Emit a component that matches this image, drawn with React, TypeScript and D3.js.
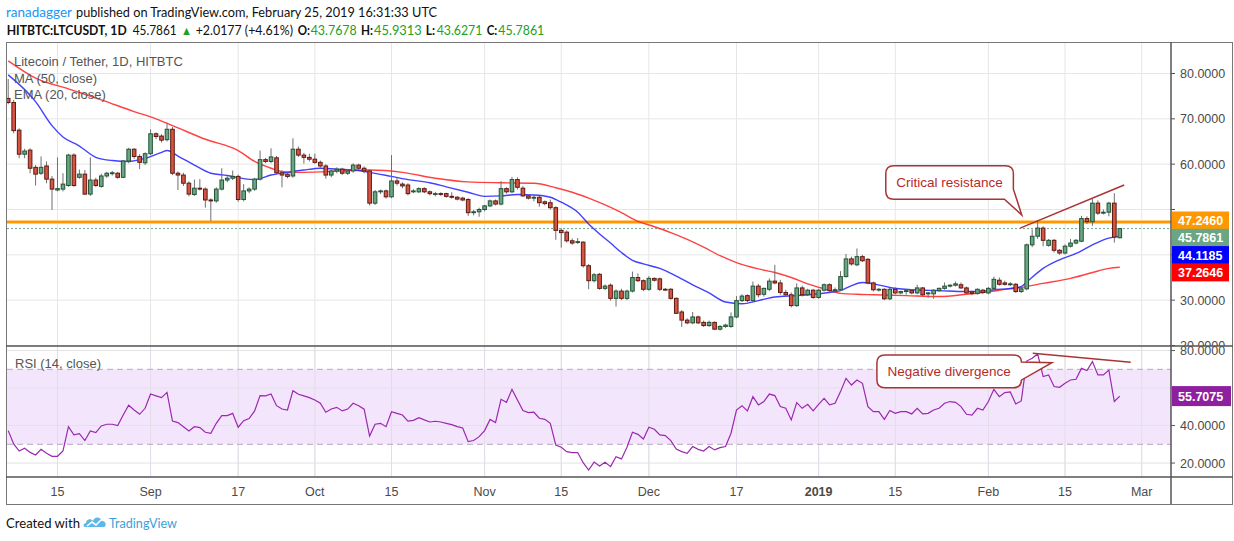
import React from 'react';
import * as d3 from 'd3';

// ---------- DATA ----------
const START = Date.UTC(2018, 7, 6); // first daily candle (Aug 6, 2018)
const DAY = 86400000;

// [open, high, low, close] daily candles, Aug 6 2018 .. Feb 25 2019
const ohlc: number[][] = [
  [74.5, 78.8, 73.2, 73.6], [73.6, 74.2, 66.8, 67.4], [67.5, 67.9, 61.3, 62.2], [62.2, 63.4, 61.3, 62.9],
  [63.1, 63.5, 58.0, 59.1], [59.3, 59.8, 55.3, 57.8], [58.0, 61.7, 57.6, 59.3], [59.6, 60.6, 55.8, 56.7],
  [56.7, 57.4, 49.9, 54.5], [54.3, 61.5, 54.0, 54.6], [54.5, 58.0, 54.0, 55.6], [55.3, 62.3, 55.0, 62.0],
  [62.0, 62.4, 55.0, 55.3], [57.1, 58.8, 56.8, 57.8], [57.8, 58.7, 53.2, 53.4], [53.4, 61.5, 53.0, 56.5],
  [56.5, 57.0, 55.0, 55.3], [55.1, 57.9, 54.8, 57.4], [57.4, 58.3, 57.0, 58.0], [57.9, 58.5, 57.5, 58.1],
  [58.0, 58.3, 56.8, 57.1], [57.1, 60.9, 56.9, 60.7], [60.7, 63.6, 60.2, 63.3], [63.3, 63.5, 61.2, 61.7],
  [61.7, 62.2, 58.9, 60.4], [60.3, 62.6, 59.8, 62.3], [62.3, 67.7, 62.0, 66.7], [66.7, 67.0, 65.5, 66.1],
  [66.2, 66.6, 64.8, 65.3], [65.4, 69.1, 65.0, 67.7], [67.7, 68.2, 57.6, 58.0], [58.0, 58.4, 54.3, 57.6],
  [57.6, 58.1, 55.2, 55.8], [55.8, 56.2, 52.9, 53.4], [53.3, 56.6, 53.0, 54.7], [54.7, 56.7, 54.2, 54.5],
  [54.5, 54.9, 50.4, 52.1], [52.1, 52.5, 47.5, 51.9], [51.9, 54.9, 51.5, 54.5], [54.5, 59.1, 54.2, 56.5],
  [56.5, 57.3, 56.0, 56.9], [56.9, 58.6, 56.5, 57.3], [57.3, 57.7, 51.7, 52.2], [52.2, 55.6, 51.8, 54.1],
  [54.1, 54.9, 53.6, 54.5], [54.5, 57.0, 54.1, 56.7], [56.7, 63.0, 56.4, 61.0], [61.0, 61.4, 60.2, 60.6],
  [60.6, 63.5, 60.2, 61.6], [61.4, 61.8, 57.9, 58.1], [58.1, 58.6, 54.9, 57.6], [57.8, 58.2, 56.9, 57.3],
  [57.4, 65.7, 57.0, 63.3], [63.3, 63.9, 61.6, 62.0], [62.0, 62.5, 60.1, 61.5], [61.5, 62.3, 60.6, 61.1],
  [61.1, 62.3, 60.1, 60.4], [60.4, 60.8, 59.2, 59.6], [59.6, 60.0, 56.8, 57.6], [57.6, 58.8, 57.1, 58.5],
  [58.5, 59.3, 58.0, 58.9], [58.9, 59.2, 57.6, 58.0], [58.0, 58.9, 57.6, 58.5], [58.5, 60.2, 58.1, 59.8],
  [59.8, 60.1, 58.7, 59.1], [59.1, 59.5, 58.0, 58.5], [58.5, 58.8, 50.9, 51.4], [51.4, 54.3, 51.0, 53.9],
  [53.9, 54.4, 53.4, 54.1], [54.1, 54.4, 52.4, 52.8], [52.8, 62.0, 52.5, 56.3], [56.3, 57.0, 55.3, 55.8],
  [55.6, 56.0, 54.7, 55.2], [55.4, 55.8, 53.1, 53.5], [53.9, 54.5, 53.6, 54.1], [53.9, 54.9, 53.6, 54.6],
  [54.6, 54.9, 53.6, 53.9], [53.9, 54.2, 53.1, 53.5], [53.4, 53.9, 52.9, 53.5], [53.5, 53.8, 53.0, 53.4],
  [53.5, 53.7, 52.6, 52.9], [52.9, 53.8, 52.4, 52.7], [52.7, 53.0, 52.0, 52.3], [52.5, 52.8, 51.8, 52.1],
  [52.2, 52.5, 48.6, 49.3], [49.3, 49.9, 48.7, 49.5], [49.5, 50.4, 48.4, 50.0], [50.0, 51.0, 49.6, 50.8],
  [50.8, 52.2, 50.5, 51.9], [51.9, 52.2, 50.9, 51.2], [51.2, 56.3, 50.9, 54.6], [54.6, 54.9, 53.5, 53.9],
  [53.9, 57.2, 53.6, 56.6], [56.6, 57.1, 54.4, 54.9], [54.7, 55.2, 52.8, 53.0], [53.0, 53.3, 52.2, 52.5],
  [52.5, 53.3, 51.8, 52.7], [52.7, 53.0, 50.6, 51.5], [51.7, 52.0, 50.9, 51.3], [51.5, 52.2, 50.0, 50.4],
  [50.4, 50.7, 43.3, 45.4], [45.4, 45.8, 41.6, 44.9], [45.0, 45.4, 42.7, 43.1], [43.1, 43.6, 42.2, 42.6],
  [42.8, 43.7, 42.4, 42.9], [42.8, 43.0, 37.2, 37.6], [37.6, 38.0, 32.4, 34.3], [34.3, 36.0, 33.9, 35.6],
  [35.7, 36.0, 32.3, 32.6], [32.6, 33.5, 32.2, 33.1], [33.3, 33.7, 29.9, 30.4], [30.4, 32.4, 28.6, 32.0],
  [32.0, 32.5, 30.0, 30.4], [30.4, 32.3, 30.0, 32.0], [32.0, 36.3, 31.7, 35.0], [35.0, 35.9, 34.0, 34.3],
  [34.3, 34.6, 32.0, 32.4], [32.4, 35.3, 32.1, 34.8], [34.8, 35.0, 34.1, 34.4], [34.7, 35.0, 32.0, 32.4],
  [32.4, 32.7, 32.1, 32.3], [32.4, 32.7, 30.1, 30.4], [30.4, 30.6, 27.0, 27.1], [27.4, 27.8, 24.1, 25.6],
  [25.6, 26.0, 24.7, 25.0], [25.0, 27.4, 24.7, 26.3], [26.3, 26.6, 24.7, 25.0], [25.1, 25.5, 24.1, 24.4],
  [24.4, 25.5, 24.1, 25.1], [25.1, 25.3, 23.4, 23.6], [23.6, 24.5, 23.3, 24.2], [24.2, 24.8, 23.9, 24.5],
  [24.2, 27.3, 23.9, 26.3], [26.3, 30.9, 26.0, 29.9], [29.9, 31.3, 29.6, 30.9], [31.0, 31.3, 29.6, 29.9],
  [29.9, 34.1, 29.6, 33.1], [33.1, 33.6, 30.6, 31.2], [31.3, 32.8, 30.8, 32.6], [32.4, 34.8, 32.0, 34.2],
  [34.2, 37.8, 33.5, 33.8], [33.8, 34.5, 31.2, 31.7], [31.7, 32.3, 31.0, 31.2], [31.2, 31.7, 28.4, 28.8],
  [28.8, 33.7, 28.5, 32.7], [32.7, 33.2, 30.8, 31.2], [31.2, 32.5, 30.9, 32.2], [32.2, 32.5, 30.3, 30.6],
  [30.6, 32.5, 30.3, 32.2], [32.2, 33.7, 31.9, 33.4], [33.4, 33.7, 31.8, 32.1], [32.1, 32.8, 31.8, 32.3],
  [32.3, 36.4, 32.0, 35.2], [35.2, 40.2, 35.0, 39.1], [39.1, 39.6, 37.6, 38.0], [37.8, 41.4, 37.5, 39.6],
  [39.6, 40.0, 38.4, 38.7], [39.0, 39.3, 33.5, 33.8], [33.8, 34.1, 31.9, 32.3], [32.3, 32.7, 31.9, 32.4],
  [32.4, 32.6, 30.0, 30.3], [30.3, 32.7, 30.0, 32.4], [32.4, 32.8, 31.3, 31.6], [31.6, 32.1, 31.3, 31.9],
  [31.9, 32.3, 31.2, 32.1], [32.1, 32.4, 31.3, 31.6], [31.6, 33.4, 31.3, 32.7], [32.7, 32.9, 30.9, 31.2],
  [31.4, 31.8, 30.5, 31.6], [31.4, 32.4, 30.3, 32.2], [32.1, 32.8, 31.8, 32.6], [32.6, 33.9, 32.3, 33.1],
  [33.1, 33.5, 32.8, 33.3], [33.3, 34.1, 33.0, 33.6], [33.4, 33.9, 32.5, 32.7], [32.7, 33.0, 31.3, 31.6],
  [31.8, 32.1, 31.1, 31.5], [31.5, 32.6, 31.2, 32.4], [32.2, 32.5, 31.4, 31.7], [31.6, 32.9, 31.3, 32.6],
  [32.6, 35.2, 32.3, 34.6], [34.4, 35.0, 33.2, 33.5], [33.8, 34.3, 33.2, 33.5], [33.4, 34.0, 33.1, 33.6],
  [33.5, 33.8, 31.6, 31.9], [31.9, 32.8, 31.6, 32.5], [32.5, 42.5, 32.2, 42.2], [42.2, 45.6, 41.7, 44.1],
  [44.1, 47.7, 43.5, 45.9], [45.9, 46.3, 41.9, 43.2], [42.1, 43.5, 41.8, 43.2], [43.2, 43.5, 40.5, 41.0],
  [41.0, 41.3, 40.0, 40.4], [40.4, 42.3, 40.1, 41.9], [41.9, 43.5, 41.6, 42.6], [42.6, 43.5, 42.3, 43.2],
  [43.0, 48.6, 42.8, 48.0], [48.0, 48.5, 46.8, 47.3], [47.3, 52.3, 46.4, 51.4], [51.4, 52.0, 48.8, 49.2],
  [49.2, 50.0, 48.9, 49.4], [49.4, 51.7, 48.5, 51.4], [51.4, 53.6, 42.7, 43.9], [43.7678, 45.9313, 43.6271, 45.7861],
];

// RSI (14, close), one value per candle
const rsi14: number[] = [
  37.3, 30.2, 26.4, 27.9, 25.7, 24.3, 27.3, 25.2, 23.6, 23.6, 26.4, 39.4, 35.0, 35.7, 32.0, 37.1,
  36.2, 39.8, 40.7, 40.7, 40.0, 45.6, 50.8, 48.3, 46.0, 49.2, 56.8, 55.8, 54.9, 57.7, 42.4, 41.6,
  39.4, 37.1, 39.4, 38.9, 36.4, 35.9, 41.2, 45.3, 45.3, 46.5, 39.1, 42.6, 43.7, 47.8, 56.0, 55.8,
  56.8, 50.6, 48.8, 48.3, 58.6, 56.7, 55.8, 54.9, 53.6, 51.9, 47.1, 48.8, 49.7, 47.8, 48.8, 51.9,
  50.6, 48.7, 34.4, 40.7, 41.2, 39.4, 47.4, 46.5, 45.6, 42.4, 42.8, 44.2, 43.0, 41.9, 42.3, 41.9,
  41.2, 40.5, 39.4, 38.7, 31.4, 32.0, 34.1, 37.3, 43.3, 41.6, 54.0, 52.4, 59.3, 53.6, 48.0, 46.9,
  47.1, 43.9, 43.3, 41.2, 29.6, 28.4, 26.1, 25.6, 25.6, 20.2, 16.3, 20.5, 18.4, 20.4, 18.1, 23.4,
  22.2, 28.4, 36.4, 35.3, 32.8, 39.1, 38.0, 35.0, 34.6, 32.0, 27.5, 26.1, 25.2, 28.8, 27.3, 26.4,
  28.8, 27.0, 28.2, 28.8, 35.9, 48.3, 50.6, 47.8, 55.4, 51.0, 52.8, 56.8, 56.0, 50.1, 49.2, 43.0,
  52.2, 49.2, 51.3, 47.8, 51.3, 54.5, 51.0, 51.9, 58.1, 65.2, 61.6, 64.3, 62.5, 50.1, 47.4, 47.4,
  43.3, 48.0, 46.5, 47.4, 47.4, 46.2, 49.2, 46.2, 46.5, 48.3, 49.2, 51.9, 52.8, 52.4, 50.1, 46.0,
  45.6, 49.2, 48.3, 52.8, 59.3, 55.4, 57.6, 57.9, 51.5, 53.1, 74.4, 75.9, 78.2, 66.1, 67.0, 60.8,
  60.4, 62.5, 64.3, 64.7, 70.5, 69.3, 74.1, 67.0, 67.0, 69.6, 52.8, 55.7075,
];

// MA (50, close) read at [candle index, value]
const ma50Pts: [number, number][] = [
  [0, 82.8], [5, 79.0], [11, 76.6], [17, 74.2], [23, 71.6], [27, 70.0], [31, 68.0], [36, 65.5],
  [42, 63.0], [45, 60.6], [48, 59.1], [50, 58.4], [53, 58.2], [57, 58.3], [62, 58.6], [66, 58.7],
  [72, 58.2], [78, 56.9], [84, 56.1], [90, 55.9], [96, 55.8], [100, 54.8], [103, 53.8], [106, 52.5],
  [109, 51.0], [112, 49.3], [115, 47.4], [118, 46.2], [121, 44.9], [124, 43.4], [127, 41.7], [130, 39.8],
  [133, 38.3], [137, 36.9], [140, 36.1], [143, 35.0], [146, 33.6], [149, 32.5], [152, 31.5], [155, 31.3],
  [158, 31.2], [164, 31.0], [170, 30.8], [175, 31.3], [178, 31.7], [181, 32.2], [185, 32.8], [189, 33.7],
  [194, 34.8], [198, 36.1], [201, 37.0], [203, 37.2646],
];

// EMA (20, close) read at [candle index, value]
const ema20Pts: [number, number][] = [
  [0, 79.7], [5, 73.8], [8, 68.5], [10, 66.0], [13, 64.0], [16, 61.5], [19, 60.8], [22, 60.6],
  [25, 61.3], [28, 62.6], [29, 63.0], [31, 61.8], [34, 59.8], [37, 58.0], [40, 57.5], [43, 56.8],
  [45, 56.6], [48, 57.6], [51, 58.2], [54, 58.7], [57, 59.1], [60, 58.9], [63, 58.7], [66, 58.2],
  [70, 57.3], [73, 56.6], [77, 55.9], [80, 55.0], [84, 53.8], [87, 52.9], [90, 53.0], [93, 53.3],
  [96, 53.2], [99, 52.7], [101, 51.6], [104, 49.4], [106, 46.8], [108, 44.6], [110, 42.6], [112, 40.5],
  [114, 38.8], [116, 38.0], [119, 37.0], [122, 35.3], [125, 33.4], [128, 31.6], [131, 29.6], [134, 29.2],
  [137, 29.9], [140, 30.7], [144, 31.0], [147, 31.3], [150, 31.7], [152, 32.1], [154, 33.2], [156, 33.9],
  [158, 33.6], [161, 32.8], [165, 32.3], [170, 32.1], [175, 31.9], [178, 32.0], [180, 32.3], [183, 32.6],
  [185, 33.0], [186, 34.0], [189, 37.0], [192, 38.9], [195, 40.3], [198, 42.2], [201, 43.7], [203, 44.1185],
];

const priceTicks = [20, 30, 40, 50, 60, 70, 80];
const rsiGridTicks = [20, 40, 60, 80];
const rsiBand = [30, 70];
const timeTickDates = ['2018-08-15', '2018-09-01', '2018-09-17', '2018-10-01', '2018-10-15', '2018-11-01', '2018-11-15',
  '2018-12-01', '2018-12-17', '2019-01-01', '2019-01-15', '2019-02-01', '2019-02-15', '2019-03-01'];
const timeTickLabels = ['15', 'Sep', '17', 'Oct', '15', 'Nov', '15', 'Dec', '17', '2019', '15', 'Feb', '15', 'Mar'];

const resistanceLevel = 47.246;
const lastPrice = 45.7861;
const lastEma = 44.1185;
const lastMa = 37.2646;
const lastRsi = 55.7075;
const priceTrendLine: [number, number][] = [[184.8, 45.9], [203.8, 55.4]];
const rsiTrendLine: [number, number][] = [[187.1, 78.5], [205.0, 73.7]];
const resistanceCallout = { idx: 185.1, value: 48.8, text: 'Critical resistance' };
const divergenceCallout = { idx: 190.6, value: 73.5, text: 'Negative divergence' };

// header line 2 segments: [text, kind]
const headerSegs: [string, string][] = [
  ['HITBTC:LTCUSDT, 1D', 'b'], ['45.7861', 'n'], ['▲', 'g'], ['+2.0177 (+4.61%)', 'n'],
  ['O:', 'b'], ['43.7678', 'g'], ['H:', 'b'], ['45.9313', 'g'], ['L:', 'b'], ['43.6271', 'g'], ['C:', 'b'], ['45.7861', 'g'],
];
// layout of those segments (x, width) in px
const headerLayout: [number, number][] = [
  [6.7, 120], [132.7, 44], [181, 11], [195.7, 97.3], [297.7, 12.3], [310.7, 46], [361, 12], [374, 47.7],
  [425.7, 9.3], [436.7, 45.6], [486.7, 10.6], [498.3, 46],
];

// ---------- LAYOUT ----------
const W = 1234, H = 541;
const PL = 7, PR = 1171;
const MAIN_T = 42, MAIN_B = 346, RSI_B = 477, AXIS_B = 504;
const FONT = '"Liberation Sans", Arial, sans-serif';
const HFONT = 'Lato, "Open Sans", sans-serif';

const dateOf = (i: number) => new Date(START + i * DAY);
const x = d3.scaleUtc().domain([dateOf(0), dateOf(203)]).range([8.2, 1119.8]);
const yP = d3.scaleLinear().domain([20, 80]).range([345.5, 73.5]);
const yR = d3.scaleLinear().domain([30, 70]).range([444.3, 369.3]);

const UP = '#6ba583', UP_B = '#225437', DN = '#d75442', DN_B = '#5b1a13';
const ANN = '#a83434';
const GREEN_TXT = '#22a022';

export default function App() {
  const maPath = d3.line<[number, number]>().x((d) => x(dateOf(d[0]))).y((d) => yP(d[1])).curve(d3.curveMonotoneX)(ma50Pts) || '';
  const emaPath = d3.line<[number, number]>().x((d) => x(dateOf(d[0]))).y((d) => yP(d[1])).curve(d3.curveMonotoneX)(ema20Pts) || '';
  const rsiPath = d3.line<number>().x((_, i) => x(dateOf(i))).y((d) => yR(d))(rsi14) || '';

  // price label stacking
  const labels = [
    { v: resistanceLevel, fill: '#ff9800' },
    { v: lastPrice, fill: UP },
    { v: lastEma, fill: '#0000ff' },
    { v: lastMa, fill: '#ff0000' },
  ];
  let prev = -Infinity;
  const placed = labels.map((l) => {
    let cy = yP(l.v) - 1.5;
    if (cy < prev + 17.3) cy = prev + 17.3;
    prev = cy;
    return { ...l, cy };
  });
  // axis tick labels hidden behind value boxes
  const mainTickVisible = (t: number) => placed.every((l) => Math.abs(l.cy - yP(t)) > 13);
  const rsiTickVisible = (t: number) => Math.abs(yR(lastRsi) - yR(t)) > 14;

  // callouts
  const r = 8;
  const rt = { x: x(dateOf(resistanceCallout.idx)), y: yP(resistanceCallout.value) };
  const rb = { x0: rt.x - 136, x1: rt.x - 8.4, y0: rt.y - 49.3, y1: rt.y - 15.7 };
  const resPath = `M${rb.x0 + r},${rb.y0} L${rb.x1 - r},${rb.y0} Q${rb.x1},${rb.y0} ${rb.x1},${rb.y0 + r} L${rb.x1},${rb.y1 - 10} L${rt.x},${rt.y} L${rb.x1 - 9},${rb.y1} L${rb.x0 + r},${rb.y1} Q${rb.x0},${rb.y1} ${rb.x0},${rb.y1 - r} L${rb.x0},${rb.y0 + r} Q${rb.x0},${rb.y0} ${rb.x0 + r},${rb.y0} Z`;

  const dt = { x: x(dateOf(divergenceCallout.idx)), y: yR(divergenceCallout.value) };
  const db = { x0: dt.x - 175, x1: dt.x - 30.5, y0: dt.y - 7.7, y1: dt.y + 25 };
  const divPath = `M${db.x0 + r},${db.y0} L${db.x1 - r},${db.y0} Q${db.x1},${db.y0} ${db.x1},${db.y0 + r - 1} L${dt.x},${dt.y} L${db.x1},${db.y0 + 25} L${db.x1},${db.y1 - r} Q${db.x1},${db.y1} ${db.x1 - r},${db.y1} L${db.x0 + r},${db.y1} Q${db.x0},${db.y1} ${db.x0},${db.y1 - r} L${db.x0},${db.y0 + r} Q${db.x0},${db.y0} ${db.x0 + r},${db.y0} Z`;

  const tickXs = timeTickDates.map((s) => x(new Date(s + 'T00:00:00Z')));

  return (
    <svg width={W} height={H} style={{ position: 'absolute', left: 0, top: 0, background: '#fff' }}>
      <defs>
        <clipPath id="mainClip"><rect x={PL} y={MAIN_T} width={PR - PL} height={MAIN_B - MAIN_T} /></clipPath>
        <clipPath id="rsiClip"><rect x={PL} y={MAIN_B} width={PR - PL} height={RSI_B - MAIN_B} /></clipPath>
        <clipPath id="mainAxisClip"><rect x={PR} y={MAIN_T} width={W - PR} height={MAIN_B - MAIN_T} /></clipPath>
        <clipPath id="rsiAxisClip"><rect x={PR} y={MAIN_B} width={W - PR} height={RSI_B - MAIN_B} /></clipPath>
      </defs>

      {/* header */}
      <text x={6} y={17} fontFamily={HFONT} fontSize={14} fill="#2196f3" textLength={66} lengthAdjust="spacingAndGlyphs">ranadagger</text>
      <text x={76} y={17} fontFamily={HFONT} fontSize={14} fill="#111" textLength={361} lengthAdjust="spacingAndGlyphs">published on TradingView.com, February 25, 2019 16:31:33 UTC</text>
      {headerSegs.map(([t, k], i) => (
        <text key={'h' + i} x={headerLayout[i][0]} y={35} fontFamily={HFONT} fontSize={12.5}
          fontWeight={k === 'b' ? 'bold' : 'normal'} fill={k === 'g' ? GREEN_TXT : '#111'}
          textLength={headerLayout[i][1]} lengthAdjust="spacingAndGlyphs">{t}</text>
      ))}

      {/* grids */}
      <g stroke="#e6e6e6" strokeWidth={1}>
        {tickXs.map((tx, i) => (
          <line key={'vg' + i} x1={tx} x2={tx} y1={MAIN_T} y2={RSI_B} />
        ))}
        {priceTicks.map((t) => (
          <line key={'hg' + t} x1={PL} x2={PR} y1={yP(t)} y2={yP(t)} />
        ))}
      </g>

      {/* RSI pane */}
      <g clipPath="url(#rsiClip)">
        <rect x={PL} y={yR(rsiBand[1])} width={PR - PL} height={yR(rsiBand[0]) - yR(rsiBand[1])} fill="#f3e6fc" />
        {tickXs.map((tx, i) => (
          <line key={'rvg' + i} x1={tx} x2={tx} y1={MAIN_B} y2={RSI_B} stroke="#e2dce8" />
        ))}
        {rsiGridTicks.map((t) => (
          <line key={'rg' + t} x1={PL} x2={PR} y1={yR(t)} y2={yR(t)} stroke="#e3e0e6" />
        ))}
        {rsiBand.map((t) => (
          <line key={'rb' + t} x1={PL} x2={PR} y1={yR(t)} y2={yR(t)} stroke="#b8a8c0" strokeDasharray="6,4" />
        ))}
        <path d={rsiPath} fill="none" stroke="#9c27b0" strokeWidth={1.2} />
        <line x1={x(dateOf(rsiTrendLine[0][0]))} y1={yR(rsiTrendLine[0][1])} x2={x(dateOf(rsiTrendLine[1][0]))} y2={yR(rsiTrendLine[1][1])} stroke={ANN} strokeWidth={1.5} />
        <path d={divPath} fill="#fff" stroke={ANN} strokeWidth={1.5} />
        <text x={(db.x0 + db.x1) / 2} y={(db.y0 + db.y1) / 2 + 4.5} textAnchor="middle" fontFamily={FONT} fontSize={13.5} fill="#b52b2b">{divergenceCallout.text}</text>
        <text x={15} y={368} fontFamily={FONT} fontSize={13} fill="#555">RSI (14, close)</text>
      </g>

      {/* main pane */}
      <g clipPath="url(#mainClip)">
        <line x1={PL} x2={PR} y1={yP(resistanceLevel)} y2={yP(resistanceLevel)} stroke="#ffcc80" strokeWidth={4} />
        <line x1={PL} x2={PR} y1={yP(resistanceLevel)} y2={yP(resistanceLevel)} stroke="#ff9800" strokeWidth={2} />
        <line x1={PL} x2={PR} y1={yP(lastPrice)} y2={yP(lastPrice)} stroke={UP} strokeWidth={1} strokeDasharray="2,2" />
        <path d={maPath} fill="none" stroke="#ff2020" strokeWidth={1.4} strokeOpacity={0.85} />
        <path d={emaPath} fill="none" stroke="#2020ff" strokeWidth={1.4} strokeOpacity={0.85} />
        {ohlc.map(([o, h, l, c], i) => {
          const cx = x(dateOf(i));
          const up = c >= o;
          const yTop = yP(Math.max(o, c));
          const yBot = yP(Math.min(o, c));
          return (
            <g key={'c' + i}>
              <line x1={cx} x2={cx} y1={yP(h)} y2={yP(l)} stroke="#6f6f72" strokeWidth={1} />
              <rect x={cx - 1.8} y={yTop} width={3.6} height={Math.max(0.8, yBot - yTop)} fill={up ? UP : DN} stroke={up ? UP_B : DN_B} strokeWidth={1} />
            </g>
          );
        })}
        <line x1={x(dateOf(priceTrendLine[0][0]))} y1={yP(priceTrendLine[0][1])} x2={x(dateOf(priceTrendLine[1][0]))} y2={yP(priceTrendLine[1][1])} stroke={ANN} strokeWidth={1.5} />
        <path d={resPath} fill="#fff" stroke={ANN} strokeWidth={1.5} />
        <text x={(rb.x0 + rb.x1) / 2} y={(rb.y0 + rb.y1) / 2 + 4.5} textAnchor="middle" fontFamily={FONT} fontSize={13.5} fill="#b52b2b">{resistanceCallout.text}</text>
        <text x={14} y={65.5} fontFamily={FONT} fontSize={13} fill="#555">Litecoin / Tether, 1D, HITBTC</text>
        <text x={14} y={82.5} fontFamily={FONT} fontSize={13} fill="#555">MA (50, close)</text>
        <text x={14} y={99} fontFamily={FONT} fontSize={13} fill="#555">EMA (20, close)</text>
      </g>

      {/* price axis */}
      <g clipPath="url(#mainAxisClip)" fontFamily={FONT} fontSize={12.5} fill="#4a4a4a">
        {priceTicks.map((t) => (
          <g key={'pt' + t}>
            <line x1={PR} x2={PR + 4} y1={yP(t)} y2={yP(t)} stroke="#555" />
            {mainTickVisible(t) && <text x={1180} y={yP(t) + 4.5}>{t.toFixed(4)}</text>}
          </g>
        ))}
        {placed.map((l, i) => (
          <g key={'pl' + i}>
            <rect x={PR + 1} y={l.cy - 9} width={57} height={18} fill={l.fill} />
            <text x={1178} y={l.cy + 4.5} fill="#fff" fontWeight="bold">{l.v.toFixed(4)}</text>
          </g>
        ))}
      </g>
      <g clipPath="url(#rsiAxisClip)" fontFamily={FONT} fontSize={12.5} fill="#4a4a4a">
        {rsiGridTicks.map((t) => (
          <g key={'rt' + t}>
            <line x1={PR} x2={PR + 4} y1={yR(t)} y2={yR(t)} stroke="#555" />
            {rsiTickVisible(t) && <text x={1180} y={yR(t) + 4.5}>{t.toFixed(4)}</text>}
          </g>
        ))}
        <rect x={PR + 1} y={yR(lastRsi) - 10} width={59} height={20} fill="#8e1f9e" />
        <text x={1178} y={yR(lastRsi) + 4.5} fill="#fff" fontWeight="bold">{lastRsi.toFixed(4)}</text>
      </g>

      {/* time axis labels */}
      <g fontFamily={FONT} fontSize={12.5} fill="#4a4a4a" textAnchor="middle">
        {tickXs.map((tx, i) => (
          <text key={'tl' + i} x={tx} y={496} fontWeight={timeTickLabels[i] === '2019' ? 'bold' : 'normal'}>{timeTickLabels[i]}</text>
        ))}
      </g>

      {/* frame */}
      <g stroke="#555" strokeWidth={1} fill="none">
        <rect x={6.5} y={MAIN_T + 0.5} width={1226} height={AXIS_B - MAIN_T} stroke="#777" />
        <line x1={6} x2={1233} y1={MAIN_B} y2={MAIN_B} strokeWidth={1.5} />
        <line x1={6} x2={1233} y1={RSI_B} y2={RSI_B} strokeWidth={1.5} />
        <line x1={PR} x2={PR} y1={MAIN_T} y2={AXIS_B} strokeWidth={1.5} />
      </g>

      {/* footer */}
      <text x={6} y={528} fontFamily={HFONT} fontSize={14} fill="#111" textLength={74} lengthAdjust="spacingAndGlyphs">Created with</text>
      <g transform="translate(83,514)">
        <path d="M2,13 C0,13 0,9 3,9 C3,5 8,4 10,7 C11,3 17,2 19,7 C23,7 24,12 21,13 Z" fill="#5cb8e6" />
        <polyline points="4,12 9,8 13,11 19,5" fill="none" stroke="#fff" strokeWidth={1.6} />
      </g>
      <text x={109} y={528} fontFamily={HFONT} fontSize={14} fill="#3da0d8" textLength={68} lengthAdjust="spacingAndGlyphs">TradingView</text>
    </svg>
  );
}
